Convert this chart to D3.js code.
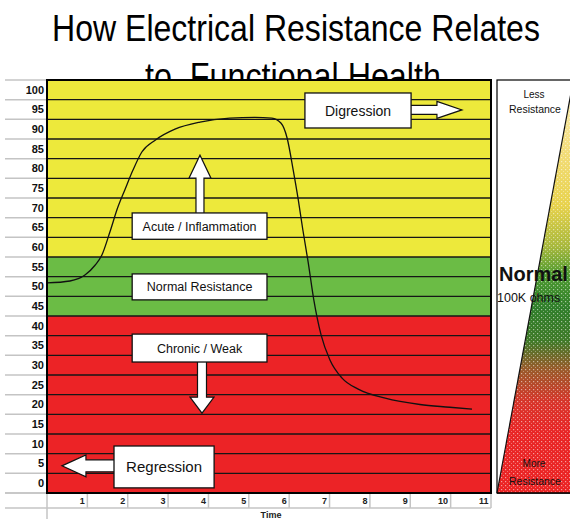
<!DOCTYPE html>
<html><head><meta charset="utf-8">
<script src="https://cdn.jsdelivr.net/npm/d3@7"></script>
<style>
body{margin:0;background:#fff;overflow:hidden}
svg{display:block}
text{font-family:"Liberation Sans",Arial,sans-serif}
</style>
</head><body>
<svg id="c" width="570" height="519"></svg>
<script>
// ---------- data ----------
const titleLines = ["How Electrical Resistance Relates", "to  Functional Health"];
const yLabels = [100,95,90,85,80,75,70,65,60,55,50,45,40,35,30,25,20,15,10,5,0];
const timeLabels = [1,2,3,4,5,6,7,8,9,10,11];
const xTitle = "Time";
const zoneNames = ["yellow","green","red"];
const zoneMin = [60,45,0];
const zoneMax = [100,55,40];
const curveTime  = [0,0.57,0.94,1.19,1.36,1.56,1.75,1.93,2.13,2.35,2.68,3.17,3.79,4.53,5.15,5.57,5.80,5.95,6.10,6.22,6.34,6.47,6.61,6.79,7.01,7.31,7.71,8.38,9.24,9.98,10.53];
const curveValue = [50.9,51.4,52.9,55.4,58.0,63.9,70.0,74.6,79.6,84.2,87.2,90.0,91.8,92.8,93.0,92.8,91.5,87.7,79.6,72.4,64.3,56.2,46.6,37.7,31.3,26.7,23.9,21.6,20.0,19.3,18.8];
const boxLabels = ["Digression","Acute / Inflammation","Normal Resistance","Chronic / Weak","Regression"];
const boxT0 = [6.39,2.11,2.11,2.11,1.66];
const boxT1 = [9.02,5.45,5.45,5.45,4.14];
const boxV0 = [99.2,68.7,53.2,37.9,9.45];
const boxV1 = [90.3,62.0,46.6,30.8,-1.2];
const legendTop = ["Less","Resistance"];
const legendMid = ["Normal","100K ohms"];
const legendBot = ["More","Resistance"];

// ---------- layout ----------
const W=570,H=519;
const plotL=47, plotR=491, plotT=80, plotB=493;
const zoneColor = {yellow:"#EDE93B", green:"#6BBC45", red:"#EC2326"};
const svg = d3.select("#c");

const yBand = d3.scaleBand().domain(yLabels).range([plotT,plotB]);
const y = d3.scaleLinear().domain([-2.5,102.5]).range([plotB,plotT]);
const xBand = d3.scaleBand().domain(timeLabels).range([plotL,plotR]);
const x = d3.scaleLinear().domain([0,11]).range([plotL,plotR]);

// title (horizontally condensed via transform)
function titleText(t, x0, y0, targetW){
  const g = svg.append("g");
  const tx = g.append("text").attr("x",0).attr("y",0).attr("font-size",37).attr("fill","#000")
    .style("white-space","pre").text(t);
  const w = tx.node().getComputedTextLength();
  g.attr("transform",`translate(${x0},${y0}) scale(${targetW/w},1)`);
}
titleText(titleLines[0],52,41,488);
titleText(titleLines[1],145,89,296);

// sheet background covering lower title
svg.append("rect").attr("x",0).attr("y",plotT).attr("width",W).attr("height",H-plotT).attr("fill","#fff");

// gray spreadsheet lines (left column)
const gray="#c4c4c4";
const bounds = yLabels.map(l=>yBand(l)).concat([plotB]);
svg.append("g").selectAll("line").data(bounds).join("line")
  .attr("x1",5).attr("x2",plotL).attr("y1",d=>d).attr("y2",d=>d)
  .attr("stroke",gray).attr("stroke-width",1.5);
svg.append("line").attr("x1",5).attr("x2",plotR).attr("y1",plotB).attr("y2",plotB).attr("stroke",gray).attr("stroke-width",1.5);
svg.append("line").attr("x1",5).attr("x2",plotR).attr("y1",508).attr("y2",508).attr("stroke",gray).attr("stroke-width",1.5);
svg.append("line").attr("x1",plotL).attr("x2",plotL).attr("y1",plotB).attr("y2",H).attr("stroke",gray).attr("stroke-width",1.5);
svg.append("g").selectAll("line").data(timeLabels).join("line")
  .attr("x1",d=>xBand(d)+xBand.bandwidth()).attr("x2",d=>xBand(d)+xBand.bandwidth())
  .attr("y1",plotB).attr("y2",508).attr("stroke",gray).attr("stroke-width",1.5);

// y labels
svg.append("g").selectAll("text").data(yLabels).join("text")
  .attr("x",44).attr("y",d=>yBand(d)+yBand.bandwidth()/2).attr("dy","0.36em")
  .attr("text-anchor","end").attr("font-size",11).attr("font-weight","bold").attr("fill","#111")
  .text(d=>d);
// x labels
svg.append("g").selectAll("text").data(timeLabels).join("text")
  .attr("x",d=>xBand(d)+xBand.bandwidth()-2.5).attr("y",501).attr("dy","0.36em")
  .attr("text-anchor","end").attr("font-size",9).attr("font-weight","bold").attr("fill","#222")
  .text(d=>d);
svg.append("text").attr("x",(plotL+plotR)/2+2).attr("y",518).attr("text-anchor","middle")
  .attr("font-size",9).attr("font-weight","bold").attr("fill","#222").text(xTitle);

// colored rows
function zoneOf(v){ for(let i=0;i<zoneNames.length;i++){ if(v>=zoneMin[i]&&v<=zoneMax[i]) return zoneNames[i]; } return "red"; }
svg.append("g").selectAll("rect").data(yLabels).join("rect")
  .attr("x",plotL).attr("width",plotR-plotL)
  .attr("y",d=>yBand(d)).attr("height",yBand.bandwidth()+0.5)
  .attr("fill",d=>zoneColor[zoneOf(d)]);
// grid lines
svg.append("g").selectAll("line").data(yLabels.slice(1)).join("line")
  .attr("x1",plotL).attr("x2",plotR).attr("y1",d=>yBand(d)).attr("y2",d=>yBand(d))
  .attr("stroke","#161616").attr("stroke-width",1.4);

// curve
const line = d3.line().x(d=>x(d[0])).y(d=>y(d[1])).curve(d3.curveMonotoneX);
svg.append("path").datum(curveTime.map((t,i)=>[t,curveValue[i]]))
  .attr("d",line).attr("fill","none").attr("stroke","#111").attr("stroke-width",1.3);

// plot border
svg.append("rect").attr("x",plotL).attr("y",plotT).attr("width",plotR-plotL).attr("height",plotB-plotT)
  .attr("fill","none").attr("stroke","#000").attr("stroke-width",2);

// arrows
const poly = d3.line();
function arrowStyle(p){ return p.attr("fill","#fff").attr("stroke","#111").attr("stroke-width",1.2).attr("stroke-linejoin","miter"); }
{
  const x0=x(boxT1[0]), cy=y(94.9), tip=x(10.28);
  const pts=[[x0-2,cy-4.5],[tip-25,cy-4.5],[tip-25,cy-8.5],[tip,cy],[tip-25,cy+8.5],[tip-25,cy+4.5],[x0-2,cy+4.5]];
  arrowStyle(svg.append("path").attr("d",poly(pts)+"Z"));
}
{
  const cx=x(3.79), y0=y(boxV0[1]), tip=y(83.4);
  const pts=[[cx-4,y0+2],[cx-4,tip+23],[cx-11,tip+23],[cx,tip],[cx+11,tip+23],[cx+4,tip+23],[cx+4,y0+2]];
  arrowStyle(svg.append("path").attr("d",poly(pts)+"Z"));
}
{
  const cx=x(3.84), y0=y(boxV1[3]), tip=y(17.8);
  const pts=[[cx-4.5,y0-2],[cx-4.5,tip-16],[cx-12,tip-16],[cx,tip],[cx+12,tip-16],[cx+4.5,tip-16],[cx+4.5,y0-2]];
  arrowStyle(svg.append("path").attr("d",poly(pts)+"Z"));
}
{
  const x0=x(boxT0[4]), cy=y(4.4), tip=x(0.37);
  const pts=[[x0+2,cy-6],[tip+24,cy-6],[tip+24,cy-11],[tip,cy],[tip+24,cy+11],[tip+24,cy+6],[x0+2,cy+6]];
  arrowStyle(svg.append("path").attr("d",poly(pts)+"Z"));
}

// boxes
const boxFont=[14,12.5,12.5,12.5,15];
const bx = svg.append("g").selectAll("g").data(boxLabels).join("g");
bx.append("rect")
  .attr("x",(d,i)=>x(boxT0[i])).attr("y",(d,i)=>y(boxV0[i]))
  .attr("width",(d,i)=>x(boxT1[i])-x(boxT0[i])).attr("height",(d,i)=>y(boxV1[i])-y(boxV0[i]))
  .attr("fill","#fff").attr("stroke","#111").attr("stroke-width",1.3);
bx.append("text")
  .attr("x",(d,i)=>(x(boxT0[i])+x(boxT1[i]))/2).attr("y",(d,i)=>(y(boxV0[i])+y(boxV1[i]))/2)
  .attr("dy","0.36em").attr("text-anchor","middle").attr("font-size",(d,i)=>boxFont[i]).attr("fill","#111")
  .text(d=>d);

// right legend panel
const defs = svg.append("defs");
const grad = defs.append("linearGradient").attr("id","rg").attr("gradientUnits","userSpaceOnUse")
  .attr("x1",0).attr("y1",82).attr("x2",0).attr("y2",493);
[[0,"#F9F0C0"],[0.15,"#F4DE80"],[0.3,"#E8D24C"],[0.4,"#A8B83C"],[0.47,"#4E9A30"],[0.55,"#2F7E2A"],[0.63,"#3F7A28"],[0.7,"#9A5A2A"],[0.78,"#D8342A"],[0.85,"#E82626"],[1,"#EC2424"]]
  .forEach(s=>grad.append("stop").attr("offset",s[0]).attr("stop-color",s[1]));
const pat = defs.append("pattern").attr("id","dots").attr("width",4).attr("height",4).attr("patternUnits","userSpaceOnUse");
pat.append("rect").attr("x",1).attr("y",1).attr("width",1.2).attr("height",1.2).attr("fill","#fff").attr("opacity",0.55);
pat.append("rect").attr("x",3).attr("y",3).attr("width",1).attr("height",1).attr("fill","#fff").attr("opacity",0.35);

svg.append("rect").attr("x",497).attr("y",plotT).attr("width",80).attr("height",plotB-plotT)
  .attr("fill","#fff").attr("stroke","#000").attr("stroke-width",1.2);
const tri = "M573,82L497,493L573,493Z";
svg.append("path").attr("d",tri).attr("fill","url(#rg)");
svg.append("path").attr("d",tri).attr("fill","url(#dots)");
svg.append("path").attr("d","M573,82L497,493").attr("stroke","#111").attr("stroke-width",1.2);
svg.append("line").attr("x1",497).attr("x2",573).attr("y1",plotB).attr("y2",plotB).attr("stroke","#000").attr("stroke-width",1.5);

function legText(t,xx,yy,fs,opt){
  const e=svg.append("text").attr("x",xx).attr("y",yy).attr("font-size",fs).attr("fill","#111").text(t);
  if(opt&&opt.anchor) e.attr("text-anchor",opt.anchor);
  if(opt&&opt.bold) e.attr("font-weight","bold");
  return e;
}
legText(legendTop[0],534,98,10,{anchor:"middle"});
legText(legendTop[1],535,113,10.5,{anchor:"middle"});
legText(legendMid[0],499,281,20,{bold:true});
legText(legendMid[1],497,302,12.5,{});
legText(legendBot[0],534,467,10,{anchor:"middle"});
legText(legendBot[1],535,485,10.5,{anchor:"middle"});
</script>
</body></html>
